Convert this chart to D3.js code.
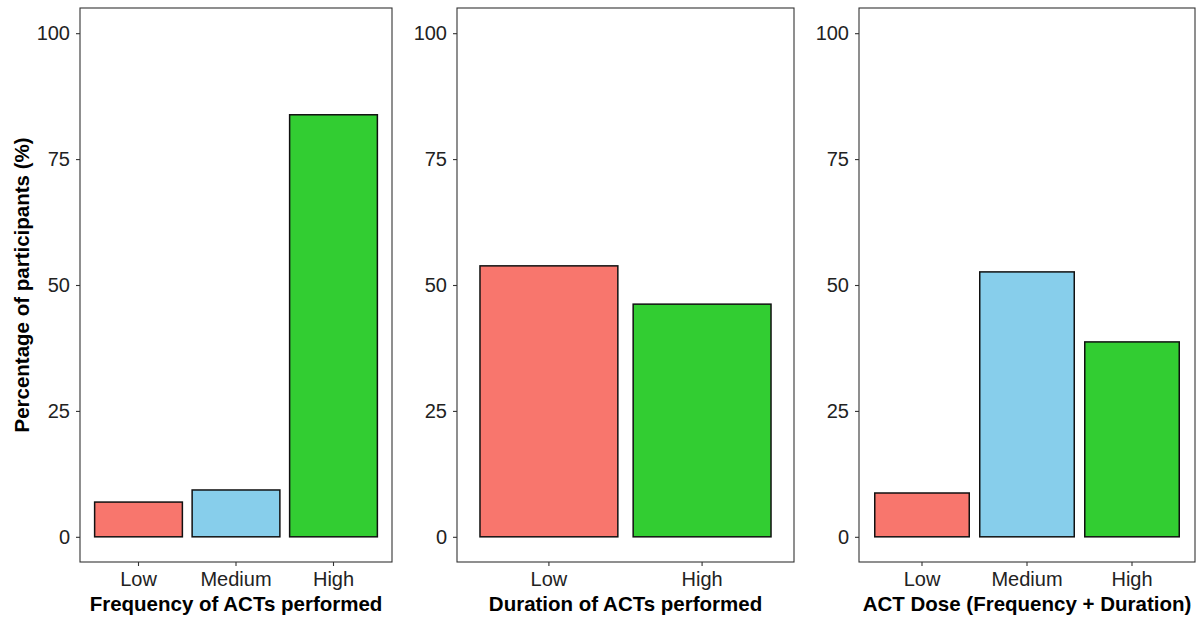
<!DOCTYPE html>
<html>
<head>
<meta charset="utf-8">
<script src="https://cdn.jsdelivr.net/npm/d3@7"></script>
<style>
  body { margin: 0; background: #fff; }
  text { font-family: "Liberation Sans", Arial, sans-serif; }
</style>
</head>
<body>
<div class="canvas"></div>
<script>
// data
const freqLevels = ["Low", "Medium", "High"];
const freqValues = [6.9, 9.3, 83.8];
const durLevels = ["Low", "High"];
const durValues = [53.8, 46.2];
const doseLevels = ["Low", "Medium", "High"];
const doseValues = [8.7, 52.6, 38.7];
const yTicks = [0, 25, 50, 75, 100];
const titles = ["Frequency of ACTs performed", "Duration of ACTs performed", "ACT Dose (Frequency + Duration)"];
const levelColors = { Low: "#F8766D", Medium: "#87CEEB", High: "#32CD32" };

// dimensions
const w = 1202;
const h = 624;
const panelTop = 8;
const panelBottom = 562;
const panels = [
  { x0: 80, x1: 392, levels: freqLevels, values: freqValues },
  { x0: 457, x1: 794, levels: durLevels, values: durValues },
  { x0: 859, x1: 1195, levels: doseLevels, values: doseValues }
];

const svg = d3.select(".canvas").append("svg").attr("width", w).attr("height", h);

// y range 0-100 with 5% expansion on both sides
const y = d3.scaleLinear().domain([-5, 105]).range([panelBottom, panelTop]);

panels.forEach((p, k) => {
  const g = svg.append("g");
  const x = d3.scaleBand()
    .domain(p.levels)
    .range([p.x0, p.x1])
    .paddingInner(0.1)
    .paddingOuter(0.15);

  // bars
  g.selectAll("rect.bar")
    .data(p.levels)
    .enter()
    .append("rect")
    .attr("class", "bar")
    .attr("x", (d) => x(d))
    .attr("width", x.bandwidth())
    .attr("y", (d, i) => y(p.values[i]))
    .attr("height", (d, i) => y(0) - y(p.values[i]))
    .attr("fill", (d) => levelColors[d])
    .attr("stroke", "#111")
    .attr("stroke-width", 1.5);

  // panel border
  g.append("rect")
    .attr("x", p.x0)
    .attr("y", panelTop)
    .attr("width", p.x1 - p.x0)
    .attr("height", panelBottom - panelTop)
    .attr("fill", "none")
    .attr("stroke", "#333")
    .attr("stroke-width", 1.1);

  // y axis
  const yAxis = g.append("g")
    .attr("transform", `translate(${p.x0},0)`)
    .call(d3.axisLeft(y).tickValues(yTicks).tickSize(4).tickPadding(6));
  yAxis.select(".domain").remove();
  yAxis.selectAll(".tick line").attr("stroke", "#333").attr("stroke-width", 1.1);
  yAxis.selectAll(".tick text").attr("font-size", 20).attr("fill", "#222");

  // x axis
  const xAxis = g.append("g")
    .attr("transform", `translate(0,${panelBottom})`)
    .call(d3.axisBottom(x).tickSize(4).tickPadding(6));
  xAxis.select(".domain").remove();
  xAxis.selectAll(".tick line").attr("stroke", "#333").attr("stroke-width", 1.1);
  xAxis.selectAll(".tick text").attr("font-size", 20).attr("fill", "#222");

  // x title
  g.append("text")
    .attr("x", (p.x0 + p.x1) / 2)
    .attr("y", 611)
    .attr("text-anchor", "middle")
    .attr("font-size", 20.5)
    .attr("font-weight", "bold")
    .attr("fill", "#000")
    .text(titles[k]);
});

// y title
svg.append("text")
  .attr("transform", `translate(29,${(panelTop + panelBottom) / 2}) rotate(-90)`)
  .attr("text-anchor", "middle")
  .attr("font-size", 20.5)
  .attr("font-weight", "bold")
  .attr("fill", "#000")
  .text("Percentage of participants (%)");
</script>
</body>
</html>
